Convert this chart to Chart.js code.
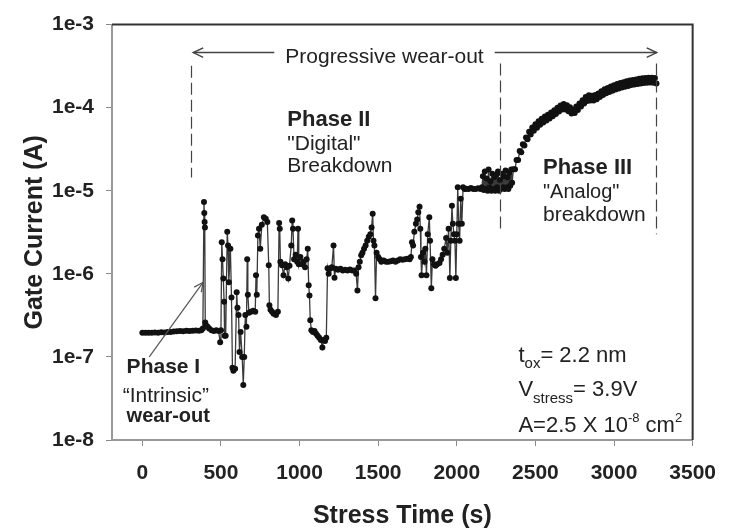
<!DOCTYPE html>
<html>
<head>
<meta charset="utf-8">
<script src="https://cdn.jsdelivr.net/npm/chart.js@4.4.1/dist/chart.umd.min.js"></script>
<style>
  html, body { margin: 0; padding: 0; background: #fff; }
  #wrap { width: 731px; height: 532px; }
</style>
</head>
<body>
<div id="wrap"><canvas id="gateChart" width="731" height="532"></canvas></div>
<script>
// Tick values
const xTicks = [0, 500, 1000, 1500, 2000, 2500, 3000, 3500];
const yTicks = [1e-8, 1e-7, 1e-6, 1e-5, 1e-4, 1e-3];

// Stress time (s)
const stressTime = [
  0, 20, 40, 60, 80, 100, 120, 140, 160, 180, 200, 220, 240, 260, 280, 300, 320, 340, 360, 375,
  385, 392, 394, 396, 398, 400, 405, 415, 425, 440, 455, 470, 485, 495, 500, 505, 510, 515, 520, 523,
  530, 540, 545, 550, 560, 567, 573, 579, 590, 600, 605, 612, 618, 625, 635, 642, 648, 655, 662, 667,
  671, 678, 690, 705, 718, 723, 728, 735, 742, 750, 760, 773, 785, 795, 804, 808, 815, 825, 835, 850,
  862, 870, 874, 878, 888, 898, 908, 918, 928, 936, 947, 953, 958, 965, 975, 985, 990, 995, 1005, 1015,
  1025, 1035, 1045, 1052, 1058, 1063, 1068, 1075, 1085, 1095, 1105, 1115, 1125, 1135, 1145, 1152, 1162, 1170, 1178, 1185,
  1195, 1205, 1216, 1222, 1230, 1245, 1260, 1275, 1290, 1305, 1320, 1335, 1350, 1360, 1368, 1375, 1383, 1392, 1400, 1410,
  1420, 1430, 1440, 1450, 1458, 1465, 1470, 1476, 1483, 1490, 1500, 1510, 1520, 1535, 1550, 1565, 1580, 1595, 1610, 1625,
  1640, 1655, 1670, 1685, 1700, 1708, 1715, 1722, 1730, 1740, 1748, 1755, 1763, 1768, 1772, 1776, 1785, 1795, 1800, 1807,
  1815, 1825, 1830, 1838, 1845, 1855, 1865, 1875, 1890, 1900, 1910, 1920, 1932, 1940, 1948, 1956, 1962, 1969, 1975, 1982,
  1988, 1994, 2000, 2006, 2012, 2018, 2025, 2032, 2040, 2050, 2060, 2075, 2090, 2105, 2120, 2135, 2150,
  2160, 2166, 2172, 2178, 2184, 2190, 2196, 2202, 2208, 2214, 2220, 2226, 2232, 2238, 2244, 2250, 2256, 2262, 2268, 2274,
  2280, 2286, 2292, 2298, 2304, 2310, 2316, 2322, 2328, 2334, 2340, 2346, 2352,
  2360, 2370, 2380, 2390, 2400, 2410, 2420, 2430, 2440, 2450, 2460, 2470, 2480, 2490, 2500, 2510, 2520, 2530, 2540, 2550,
  2560, 2570, 2580, 2590, 2600, 2610, 2620, 2630, 2640, 2650, 2660, 2670, 2680, 2690, 2700, 2710, 2720, 2730, 2740, 2750,
  2760, 2770, 2780, 2790, 2800, 2810, 2820, 2830, 2840, 2850, 2860, 2870, 2880, 2890, 2900, 2910, 2920, 2930, 2940, 2950,
  2960, 2970, 2980, 2990, 3000, 3010, 3020, 3030, 3040, 3050, 3060, 3070, 3080, 3090, 3100, 3110, 3120, 3130, 3140, 3150,
  3160, 3170, 3180, 3190, 3200, 3210, 3220, 3230, 3240, 3250, 3260, 3270
];

// Gate current (A)
const gateCurrent = [
  1.95e-7, 1.95e-7, 1.96e-7, 1.95e-7, 1.97e-7, 1.96e-7, 1.98e-7, 1.97e-7, 2.0e-7, 2.0e-7, 2.02e-7, 2.03e-7, 2.05e-7, 2.04e-7, 2.06e-7, 2.05e-7, 2.07e-7, 2.08e-7, 2.07e-7, 2.1e-7,
  2.2e-7, 7.3e-6, 5.4e-6, 4.2e-6, 3.6e-6, 2.6e-7, 2.4e-7, 2.3e-7, 2.2e-7, 2.1e-7, 2.05e-7, 2.1e-7, 2.05e-7, 1.5e-7, 2.1e-7, 2.4e-6, 1.5e-6, 8.8e-7, 4.6e-7, 1.8e-7,
  1.8e-7, 3.2e-6, 2.2e-6, 7.9e-7, 2.0e-6, 5.2e-7, 7.4e-8, 6.8e-8, 7.2e-8, 6.0e-7, 3.9e-7, 3.2e-7, 1.15e-7, 2.0e-7, 1.0e-7, 4.6e-8, 1.0e-7, 3.2e-7, 2.3e-7, 1.5e-6,
  5.6e-7, 3.4e-7, 3.5e-7, 3.6e-7, 3.5e-7, 9.6e-7, 5.6e-7, 2.9e-6, 3.5e-6, 2.0e-6, 3.9e-6, 4.8e-6, 4.6e-6, 4.2e-6, 1.27e-6, 4.2e-7, 3.7e-7, 3.5e-7, 3.3e-7, 3.2e-7,
  3.5e-7, 4.1e-6, 3.5e-6, 1.4e-6, 1.27e-6, 9.6e-7, 1.3e-6, 1.2e-6, 8.8e-7, 1.25e-6, 2.2e-6, 4.4e-6, 3.5e-6, 1.5e-6, 1.7e-6, 1.4e-6, 3.5e-6, 1.3e-6, 1.6e-6, 1.3e-6,
  1.4e-6, 1.2e-6, 1.5e-6, 2.0e-6, 7.3e-7, 5.5e-7, 2.76e-7, 2.1e-7, 2.0e-7, 2.05e-7, 1.9e-7, 1.8e-7, 1.7e-7, 1.6e-7, 1.3e-7, 1.6e-7, 1.55e-7, 1.7e-7, 1.17e-6, 1.0e-6,
  1.15e-6, 1.2e-6, 2.2e-6, 9.0e-7, 1.15e-6, 1.12e-6, 1.15e-6, 1.1e-6, 1.12e-6, 1.1e-6, 1.13e-6, 1.1e-6, 1.1e-6, 1.0e-6, 6.3e-7, 1.2e-6, 1.4e-6, 1.67e-6, 1.8e-6, 2.0e-6,
  2.2e-6, 2.5e-6, 2.8e-6, 3.0e-6, 3.6e-6, 5.3e-6, 2.5e-6, 2.2e-6, 5.1e-7, 1.8e-6, 1.6e-6, 1.5e-6, 1.4e-6, 1.45e-6, 1.4e-6, 1.4e-6, 1.42e-6, 1.45e-6, 1.4e-6, 1.45e-6,
  1.5e-6, 1.48e-6, 1.5e-6, 1.52e-6, 1.5e-6, 1.6e-6, 2.4e-6, 2.2e-6, 3.2e-6, 4.0e-6, 4.5e-6, 5.5e-6, 6.4e-6, 3.5e-6, 1.6e-6, 9.6e-7, 1.8e-6, 1.4e-6, 2.0e-6, 9.6e-7,
  3.0e-6, 4.8e-6, 2.5e-6, 6.7e-7, 1.5e-6, 1.3e-6, 1.25e-6, 1.3e-6, 1.35e-6, 1.5e-6, 1.7e-6, 2.0e-6, 2.7e-6, 1.8e-6, 3.5e-6, 8.9e-7, 2.5e-6, 6.6e-6, 4.0e-6, 3.0e-6,
  2.5e-6, 8.9e-7, 3.0e-6, 1.1e-5, 4.0e-6, 2.5e-6, 8.0e-6, 4.0e-6, 1.1e-5, 1.05e-5, 1.06e-5, 1.05e-5, 1.08e-5, 1.05e-5, 1.05e-5, 1.07e-5, 1.05e-5,
  1.1e-5, 1.5e-5, 1.02e-5, 1.7e-5, 1.05e-5, 1.4e-5, 1.0e-5, 1.8e-5, 1.1e-5, 1.3e-5, 1.0e-5, 1.6e-5, 1.05e-5, 1.45e-5, 1.0e-5, 1.55e-5, 1.1e-5, 1.7e-5, 1.0e-5, 1.35e-5,
  1.05e-5, 1.6e-5, 1.1e-5, 1.5e-5, 1.05e-5, 1.75e-5, 1.1e-5, 1.45e-5, 1.05e-5, 1.65e-5, 1.15e-5, 1.8e-5, 1.25e-5,
  1.82e-5, 1.82e-5, 2.35e-5, 2.34e-5, 3.0e-5, 2.9e-5, 3.64e-5, 3.5e-5, 4.39e-5, 4.16e-5, 5.14e-5, 4.77e-5, 5.78e-5, 5.28e-5, 6.31e-5, 5.75e-5, 6.85e-5, 6.21e-5, 7.38e-5, 6.64e-5,
  7.81e-5, 7.01e-5, 8.24e-5, 7.43e-5, 8.77e-5, 7.9e-5, 9.31e-5, 8.41e-5, 9.95e-5, 8.97e-5, 1.06e-4, 9.53e-5, 1.11e-4, 9.53e-5, 1.07e-4, 9.07e-5, 1.01e-4, 8.5e-5, 9.42e-5, 8.6e-5,
  1.03e-4, 9.35e-5, 1.12e-4, 1.03e-4, 1.23e-4, 1.12e-4, 1.34e-4, 1.2e-4, 1.41e-4, 1.22e-4, 1.39e-4, 1.22e-4, 1.42e-4, 1.26e-4, 1.48e-4, 1.34e-4, 1.58e-4, 1.42e-4, 1.67e-4, 1.49e-4,
  1.73e-4, 1.54e-4, 1.8e-4, 1.6e-4, 1.86e-4, 1.65e-4, 1.93e-4, 1.7e-4, 1.98e-4, 1.75e-4, 2.03e-4, 1.79e-4, 2.08e-4, 1.83e-4, 2.12e-4, 1.87e-4, 2.16e-4, 1.9e-4, 2.19e-4, 1.93e-4,
  2.23e-4, 1.96e-4, 2.26e-4, 1.98e-4, 2.28e-4, 2.0e-4, 2.3e-4, 2.01e-4, 2.29e-4, 1.99e-4, 2.27e-4, 1.96e-4
];

const FONT = '"Liberation Sans", Arial, sans-serif';
const INK = '#222';

// draws a run of text pieces (for sub/superscripts)
function drawRuns(ctx, x, y, runs) {
  runs.forEach(r => {
    ctx.font = (r.bold ? 'bold ' : '') + r.size + 'px ' + FONT;
    ctx.fillText(r.t, x, y + (r.dy || 0));
    x += ctx.measureText(r.t).width;
  });
}

function arrowHead(ctx, x, y, ang, len) {
  ctx.beginPath();
  ctx.moveTo(x + len * Math.cos(ang + 0.45), y + len * Math.sin(ang + 0.45));
  ctx.lineTo(x, y);
  ctx.lineTo(x + len * Math.cos(ang - 0.45), y + len * Math.sin(ang - 0.45));
  ctx.stroke();
}

const annotations = {
  id: 'annotations',
  afterDraw(chart) {
    const { ctx, chartArea: a, scales: { x, y } } = chart;
    const px = v => x.getPixelForValue(v);
    const py = v => y.getPixelForValue(v);
    ctx.save();

    // top and right frame
    ctx.strokeStyle = '#333';
    ctx.lineWidth = 2;
    ctx.beginPath();
    ctx.moveTo(a.left, a.top);
    ctx.lineTo(a.right, a.top);
    ctx.lineTo(a.right, a.bottom);
    ctx.stroke();

    // dashed phase boundaries
    ctx.strokeStyle = '#444';
    ctx.lineWidth = 1.2;
    ctx.setLineDash([12, 5]);
    [[310, 3.2e-4, 1.44e-5], [2274, 3.4e-4, 3.2e-6], [3270, 3.4e-4, 3.0e-6]].forEach(([t, y0, y1]) => {
      ctx.beginPath();
      ctx.moveTo(Math.round(px(t)) + 0.5, py(y0));
      ctx.lineTo(Math.round(px(t)) + 0.5, py(y1));
      ctx.stroke();
    });
    ctx.setLineDash([]);

    // progressive wear-out arrow
    ctx.fillStyle = INK;
    ctx.font = '21px ' + FONT;
    ctx.textBaseline = 'alphabetic';
    const label = 'Progressive wear-out';
    const ly = py(4.6e-4);
    const lx0 = px(324), lx1 = px(3271), cx = px(1540);
    const w = ctx.measureText(label).width;
    ctx.fillText(label, cx - w / 2, ly + 10);
    ctx.strokeStyle = '#444';
    ctx.lineWidth = 1.5;
    ctx.beginPath();
    ctx.moveTo(lx0, ly); ctx.lineTo(cx - w / 2 - 11, ly);
    ctx.moveTo(cx + w / 2 + 11, ly); ctx.lineTo(lx1, ly);
    ctx.stroke();
    arrowHead(ctx, lx0, ly, 0, 11);
    arrowHead(ctx, lx1, ly, Math.PI, 11);

    // Phase I pointer
    ctx.strokeStyle = '#555';
    ctx.lineWidth = 1.2;
    const ax0 = px(44), ay0 = py(1.0e-7), ax1 = px(386), ay1 = py(7.9e-7);
    ctx.beginPath(); ctx.moveTo(ax0, ay0); ctx.lineTo(ax1, ay1); ctx.stroke();
    arrowHead(ctx, ax1, ay1, Math.atan2(ay0 - ay1, ax0 - ax1), 10);

    // phase labels
    ctx.fillStyle = INK;
    drawRuns(ctx, px(922), py(6.1e-5), [{ t: 'Phase II', size: 22, bold: true }]);
    drawRuns(ctx, px(922), py(3.06e-5), [{ t: '"Digital"', size: 21 }]);
    drawRuns(ctx, px(922), py(1.66e-5), [{ t: 'Breakdown', size: 21 }]);

    drawRuns(ctx, px(2548), py(1.57e-5), [{ t: 'Phase III', size: 22, bold: true }]);
    drawRuns(ctx, px(2548), py(8.1e-6), [{ t: '"Analog"', size: 20 }]);
    drawRuns(ctx, px(2548), py(4.3e-6), [{ t: 'breakdown', size: 21 }]);

    drawRuns(ctx, px(-100), py(6.4e-8), [{ t: 'Phase I', size: 21, bold: true }]);
    drawRuns(ctx, px(-125), py(2.87e-8), [{ t: '\u201CIntrinsic\u201D', size: 21 }]);
    drawRuns(ctx, px(-100), py(1.64e-8), [{ t: 'wear-out', size: 20, bold: true }]);

    // stress conditions
    drawRuns(ctx, px(2392), py(8.65e-8), [
      { t: 't', size: 22 }, { t: 'ox', size: 15, dy: 6 }, { t: '= 2.2 nm', size: 22 }
    ]);
    drawRuns(ctx, px(2392), py(3.38e-8), [
      { t: 'V', size: 22 }, { t: 'stress', size: 15, dy: 7 }, { t: '= 3.9V', size: 22 }
    ]);
    drawRuns(ctx, px(2392), py(1.25e-8), [
      { t: 'A=2.5 X 10', size: 22 }, { t: '-8', size: 13, dy: -10 }, { t: ' cm', size: 22 }, { t: '2', size: 13, dy: -10 }
    ]);

    ctx.restore();
  }
};

const points = stressTime.map((t, i) => ({ x: t, y: gateCurrent[i] }));

new Chart(document.getElementById('gateChart'), {
  type: 'scatter',
  data: {
    datasets: [{
      data: points,
      showLine: true,
      borderColor: '#3a3a3a',
      borderWidth: 1.3,
      pointRadius: 3,
      pointBackgroundColor: '#111',
      pointBorderColor: '#111',
      pointBorderWidth: 0,
    }],
  },
  options: {
    responsive: false,
    animation: false,
    layout: { padding: { top: 24, right: 26, left: 0, bottom: 0 } },
    plugins: { legend: { display: false }, tooltip: { enabled: false } },
    scales: {
      x: {
        type: 'linear',
        min: -193, max: 3500,
        afterFit: s => { s.height = 92; },
        afterBuildTicks: s => { s.ticks = xTicks.map(v => ({ value: v })); },
        ticks: {
          color: INK, padding: 15, font: { family: FONT, size: 21, weight: 'bold' },
          callback: v => String(v),
        },
        grid: { drawOnChartArea: false, drawTicks: true, tickLength: 6, color: '#888' },
        border: { display: true, color: '#999', width: 2 },
        title: { display: true, text: 'Stress Time (s)', color: INK, padding: { top: 0, bottom: 1 }, font: { family: FONT, size: 25, weight: 'bold' } },
      },
      y: {
        type: 'logarithmic',
        min: 1e-8, max: 1e-3,
        afterFit: s => { s.width = 112; },
        afterBuildTicks: s => { s.ticks = yTicks.map(v => ({ value: v })); },
        ticks: {
          color: INK, padding: 12, font: { family: FONT, size: 21, weight: 'bold' },
          callback: v => '1e' + Math.round(Math.log10(v)),
        },
        grid: { drawOnChartArea: false, drawTicks: true, tickLength: 6, color: '#888' },
        border: { display: true, color: '#999', width: 2 },
        title: { display: true, text: 'Gate Current (A)', color: INK, padding: { top: 20, bottom: 0 }, font: { family: FONT, size: 25, weight: 'bold' } },
      },
    },
  },
  plugins: [annotations],
});
</script>
</body>
</html>
